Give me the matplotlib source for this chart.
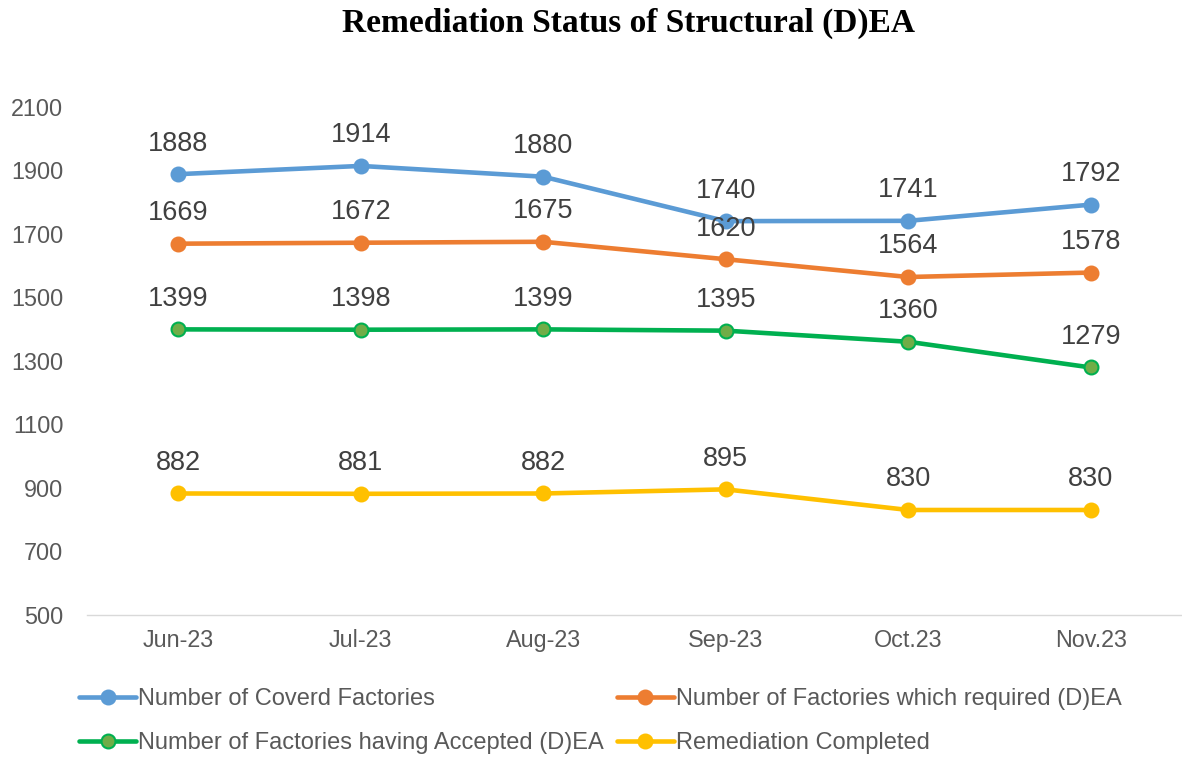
import matplotlib.pyplot as plt

months = ["Jun-23", "Jul-23", "Aug-23", "Sep-23", "Oct.23", "Nov.23"]
covered = [1888, 1914, 1880, 1740, 1741, 1792]
required = [1669, 1672, 1675, 1620, 1564, 1578]
accepted = [1399, 1398, 1399, 1395, 1360, 1279]
completed = [882, 881, 882, 895, 830, 830]

series = [
    ("Number of Coverd Factories", covered, "#5B9BD5", "#5B9BD5"),
    ("Number of Factories which required (D)EA", required, "#ED7D31", "#ED7D31"),
    ("Number of Factories having Accepted (D)EA", accepted, "#00B050", "#70AD47"),
    ("Remediation Completed", completed, "#FFC000", "#FFC000"),
]

plt.rcParams['font.family'] = ['Liberation Sans', 'DejaVu Sans']

fig = plt.figure(figsize=(11.82, 7.58), dpi=100)
ax = fig.add_axes([0.0736, 0.189, 0.9264, 0.670])

x = list(range(len(months)))
handles = {}
for name, vals, col, face in series:
    h, = ax.plot(x, vals, color=col, lw=3.3, marker='o', markersize=10,
                 markerfacecolor=face, markeredgecolor=col, markeredgewidth=1.5,
                 label=name, solid_capstyle='round')
    handles[name] = h
    for xi, v in zip(x, vals):
        ax.annotate(str(v), (xi, v), xytext=(0, 22), textcoords='offset points',
                    ha='center', va='center', fontsize=19.5, color='#404040')

ax.set_xlim(-0.5, len(months) - 0.5)
ax.set_ylim(500, 2100)
ax.set_yticks(range(500, 2101, 200))
ax.set_xticks(x)
ax.set_xticklabels(months)
ax.tick_params(axis='both', length=0, labelsize=16.8, colors='#595959')
ax.tick_params(axis='y', pad=17)
ax.tick_params(axis='x', pad=10)
for s in ['top', 'right', 'left']:
    ax.spines[s].set_visible(False)
ax.spines['bottom'].set_color('#D9D9D9')
ax.spines['bottom'].set_linewidth(1)

fig.suptitle("Remediation Status of Structural (D)EA", x=0.532, y=0.99, fontsize=24,
             fontweight='bold', family='Liberation Serif')

order = [series[0][0], series[2][0], series[1][0], series[3][0]]
fig.legend([handles[n] for n in order], order, ncol=2, loc='lower left',
           bbox_to_anchor=(0.049, -0.023), frameon=False, fontsize=17,
           labelcolor='#595959', handlelength=2.4, handletextpad=0.1,
           columnspacing=0.55, labelspacing=0.93)

fig.savefig("out.png", dpi=100)
